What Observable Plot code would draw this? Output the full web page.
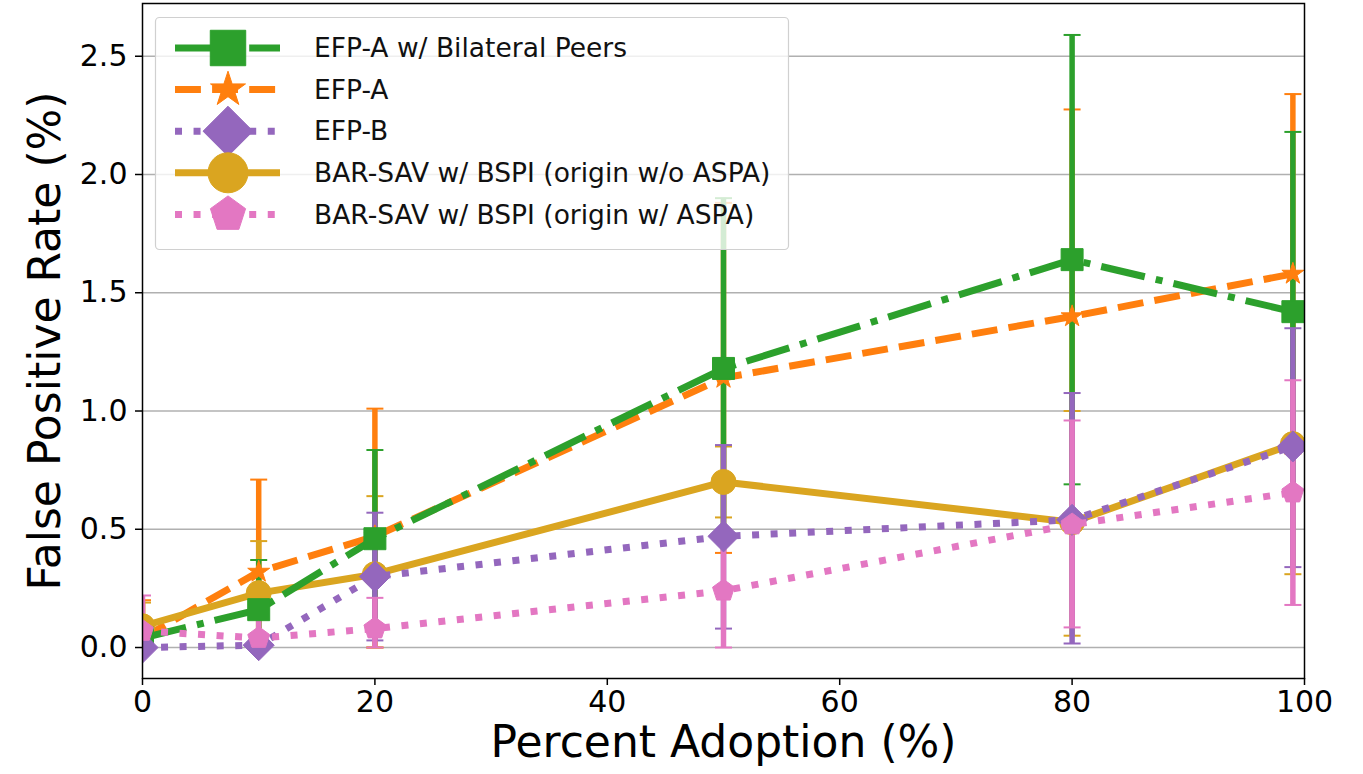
<!DOCTYPE html>
<html><head><meta charset="utf-8">
<script src="https://cdn.jsdelivr.net/npm/d3@7"></script>
<script src="https://cdn.jsdelivr.net/npm/@observablehq/plot@0.6"></script>
<style>
body{margin:0;background:#fff;}
#chart{position:relative;width:1363px;height:774px;}
svg text{font-family:"DejaVu Sans",sans-serif;}
</style></head><body><div id="chart"></div>
<script>
// ---------- data ----------
const adoption = [0, 10, 20, 50, 80, 99];
const xTicks = [0, 20, 40, 60, 80, 100];
const yTicks = [0, 0.5, 1.0, 1.5, 2.0, 2.5];
const xLabel = "Percent Adoption (%)";
const yLabel = "False Positive Rate (%)";

const seriesNames = [
  "EFP-A w/ Bilateral Peers",
  "EFP-A",
  "EFP-B",
  "BAR-SAV w/ BSPI (origin w/o ASPA)",
  "BAR-SAV w/ BSPI (origin w/ ASPA)"
];
const seriesColors = ["#2ca02c", "#ff7f0e", "#9467bd", "#daa520", "#e377c2"];

const efpaBilateralMean = [0.04, 0.16, 0.46, 1.18, 1.64, 1.42];
const efpaBilateralLow  = [0.01, 0.00, 0.085, 0.46, 0.69, 0.66];
const efpaBilateralHigh = [0.06, 0.37, 0.835, 1.90, 2.59, 2.18];

const efpaMean = [0.04, 0.32, 0.47, 1.14, 1.40, 1.58];
const efpaLow  = [0.00, 0.00, 0.00, 0.40, 0.525, 0.82];
const efpaHigh = [0.20, 0.71, 1.01, 1.88, 2.275, 2.34];

const efpbMean = [0.00, 0.01, 0.30, 0.47, 0.54, 0.85];
const efpbLow  = [0.00, 0.00, 0.03, 0.08, 0.017, 0.34];
const efpbHigh = [0.02, 0.04, 0.57, 0.856, 1.076, 1.35];

const barNoAspaMean = [0.09, 0.23, 0.31, 0.70, 0.53, 0.86];
const barNoAspaLow  = [0.00, 0.01, 0.00, 0.55, 0.05, 0.31];
const barNoAspaHigh = [0.19, 0.45, 0.64, 0.85, 1.00, 1.41];

const barAspaMean = [0.07, 0.04, 0.08, 0.24, 0.52, 0.655];
const barAspaLow  = [0.00, 0.00, 0.00, 0.00, 0.085, 0.18];
const barAspaHigh = [0.22, 0.13, 0.21, 0.48, 0.96, 1.13];

// ---------- styles ----------
const LW = 7;
const dashes = [
  [6.4 * LW, 1.6 * LW, 1 * LW, 1.6 * LW].join(","),
  [3.7 * LW, 1.6 * LW].join(","),
  [1 * LW, 1.65 * LW].join(","),
  null,
  [1 * LW, 1.65 * LW].join(",")
];
const pentagon = {
  draw(ctx, size) {
    const R = Math.sqrt(size / Math.PI);
    for (let i = 0; i < 5; i++) {
      const a = -Math.PI / 2 + i * 2 * Math.PI / 5;
      const px = R * Math.cos(a), py = R * Math.sin(a);
      if (i) ctx.lineTo(px, py); else ctx.moveTo(px, py);
    }
    ctx.closePath();
  }
};
const capSymbol = {
  draw(ctx, size) {
    const w = Math.sqrt(size / Math.PI);
    ctx.moveTo(-w, 0); ctx.lineTo(w, 0);
  }
};
const symbols = ["square", "star", "diamond2", "circle", pentagon];
const markerR = [12.4, 6.9, 14, 12.5, 11.5];
const d3Symbols = [d3.symbolSquare, d3.symbolStar, d3.symbolDiamond2, d3.symbolCircle, pentagon];

const means = [efpaBilateralMean, efpaMean, efpbMean, barNoAspaMean, barAspaMean];
const lows  = [efpaBilateralLow, efpaLow, efpbLow, barNoAspaLow, barAspaLow];
const highs = [efpaBilateralHigh, efpaHigh, efpbHigh, barNoAspaHigh, barAspaHigh];

const rowsFor = i => adoption.map((x, j) => ({
  series: seriesNames[i], x, mean: means[i][j], lo: lows[i][j], hi: highs[i][j]
}));

// drawing order (back to front): error bars below all lines
const order = [1, 3, 0, 2, 4];

const barMarks = [];
const lineMarks = [];
for (const i of order) {
  const rows = rowsFor(i);
  const c = seriesColors[i];
  barMarks.push(
    Plot.ruleX(rows, {x: "x", y1: "lo", y2: "hi", stroke: c, strokeWidth: 5.5, clip: true}),
    Plot.dot(rows, {x: "x", y: "hi", symbol: capSymbol, r: 8.5, stroke: c, strokeWidth: 2, fill: "none", clip: true}),
    Plot.dot(rows, {x: "x", y: "lo", symbol: capSymbol, r: 8.5, stroke: c, strokeWidth: 2, fill: "none", clip: true})
  );
  lineMarks.push(
    Plot.line(rows, {x: "x", y: "mean", stroke: c, strokeWidth: LW,
      strokeDasharray: dashes[i] || undefined, strokeLinecap: "butt", strokeLinejoin: "round", clip: true}),
    Plot.dot(rows, {x: "x", y: "mean", symbol: symbols[i], r: markerR[i], fill: c, stroke: c, strokeWidth: 1, clip: true})
  );
}

const plot = Plot.plot({
  width: 1363, height: 774,
  marginLeft: 142, marginRight: 59, marginTop: 3, marginBottom: 96,
  x: {domain: [0, 100]},
  y: {domain: [-0.131, 2.723]},
  style: {fontFamily: "DejaVu Sans", background: "white", color: "black"},
  marks: [
    Plot.ruleY(yTicks, {stroke: "#b0b0b0", strokeWidth: 1.4}),
    ...barMarks,
    ...lineMarks,
    Plot.frame({stroke: "black", strokeWidth: 1.5}),
    Plot.axisX({ticks: xTicks, tickSize: 7, tickPadding: 5, fontSize: 30, label: null, tickFormat: d => String(d), strokeWidth: 1.5}),
    Plot.axisY({ticks: yTicks, tickSize: 7, tickPadding: 8, fontSize: 30, label: null, tickFormat: d3.format(".1f"), strokeWidth: 1.5}),
    Plot.text([xLabel], {frameAnchor: "bottom", dy: 78, fontSize: 44, fill: "black"}),
    Plot.text([yLabel], {frameAnchor: "left", textAnchor: "middle", rotate: -90, dx: -97, fontSize: 44, fill: "black"})
  ]
});
document.getElementById("chart").appendChild(plot);

// ---------- legend (overlay inside plot area) ----------
const svg = d3.select(plot);
const lg = svg.append("g").attr("text-anchor", "start");
lg.append("rect")
  .attr("x", 155.5).attr("y", 17.5).attr("width", 633).attr("height", 232)
  .attr("rx", 4).attr("fill", "white").attr("fill-opacity", 0.8)
  .attr("stroke", "#d0d0d0").attr("stroke-width", 1.2);
const legendR = [20, 11, 22.5, 20, 18.5];
seriesNames.forEach((name, i) => {
  const cy = 48 + i * 41.6;
  const g = lg.append("g");
  const ln = g.append("line").attr("x1", 175).attr("x2", 280).attr("y1", cy).attr("y2", cy)
    .attr("stroke", seriesColors[i]).attr("stroke-width", LW).attr("stroke-linecap", "butt");
  if (dashes[i]) ln.attr("stroke-dasharray", dashes[i]);
  g.append("path")
    .attr("transform", `translate(228,${cy})`)
    .attr("d", d3.symbol(d3Symbols[i], Math.PI * legendR[i] * legendR[i])())
    .attr("fill", seriesColors[i]).attr("stroke", seriesColors[i]);
  g.append("text").attr("x", 314).attr("y", cy).attr("dy", "0.35em")
    .attr("text-anchor", "start")
    .attr("font-size", 26.5).attr("fill", "#111").text(name);
});
</script></body></html>
